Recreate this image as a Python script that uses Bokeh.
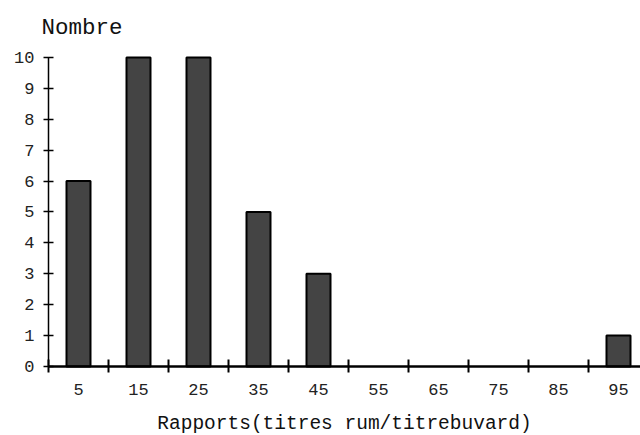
from bokeh.plotting import figure
from bokeh.models import Range1d, FixedTicker, ColumnDataSource
from bokeh.core.properties import value
from bokeh.embed import file_html
from bokeh.resources import INLINE

categories = [5, 15, 25, 35, 45, 55, 65, 75, 85, 95]
counts = [6, 10, 10, 5, 3, 0, 0, 0, 0, 1]
y_ticks = [0, 1, 2, 3, 4, 5, 6, 7, 8, 9, 10]
class_bounds = [0, 10, 20, 30, 40, 50, 60, 70, 80, 90]
x_label = "Rapports(titres rum/titrebuvard)"
y_title = "Nombre"

FONT = "Liberation Mono"

# px layout: plot area left=48, top=57, bottom=366 in a 640x435 canvas
PX_X = 6.0      # pixels per x unit
PX_Y = 30.87    # pixels per y unit
x0, x1 = -48 / PX_X, (640 - 48) / PX_X
y0, y1 = -(435 - 366) / PX_Y, 10 + 57 / PX_Y

p = figure(width=640, height=435, output_backend="svg", toolbar_location=None,
           x_range=Range1d(x0, x1), y_range=Range1d(y0, y1),
           min_border=0, min_border_left=0, min_border_right=0,
           min_border_top=0, min_border_bottom=0)
p.outline_line_color = None
p.grid.visible = False

xs = [c for c, v in zip(categories, counts) if v > 0]
ys = [v for v in counts if v > 0]
src = ColumnDataSource(dict(x=xs, top=ys))
p.vbar(x="x", top="top", bottom=0, width=4, source=src,
       fill_color="#444444", line_color="#000000", line_width=2)

xa = p.xaxis[0]
xa.fixed_location = 0
xa.bounds = (0, x1)
xa.ticker = FixedTicker(ticks=categories, minor_ticks=class_bounds)
xa.major_tick_in = 0
xa.major_tick_out = 0
xa.minor_tick_in = 7
xa.minor_tick_out = 6
xa.minor_tick_line_width = 2
xa.minor_tick_line_color = "#000000"
xa.axis_line_width = 2.5
xa.axis_line_color = "#000000"
xa.major_label_text_font = FONT
xa.major_label_text_font_size = "17px"
xa.major_label_text_color = "#222222"
xa.major_label_standoff = 12

ya = p.yaxis[0]
ya.fixed_location = 0
ya.bounds = (0, 10)
ya.ticker = FixedTicker(ticks=y_ticks, minor_ticks=[])
ya.major_tick_in = 5
ya.major_tick_out = 5
ya.minor_tick_in = 0
ya.minor_tick_out = 0
ya.major_tick_line_width = 1.5
ya.major_tick_line_color = "#000000"
ya.axis_line_width = 1.5
ya.axis_line_color = "#000000"
ya.major_label_text_font = FONT
ya.major_label_text_font_size = "17px"
ya.major_label_text_color = "#222222"
ya.major_label_standoff = 9

# captions placed at data positions above / below the axes
p.text(x=[-7 / PX_X], y=[(366 - 28) / PX_Y], text=[y_title],
       text_font=value(FONT), text_font_size="22.5px", text_color="#111111",
       text_align="left", text_baseline="alphabetic")
p.text(x=[(344 - 48) / PX_X], y=[-(424 - 366) / PX_Y], text=[x_label],
       text_font=value(FONT), text_font_size="19.5px", text_color="#111111",
       text_align="center", text_baseline="alphabetic")

open("out.html", "w").write(file_html(p, INLINE))
